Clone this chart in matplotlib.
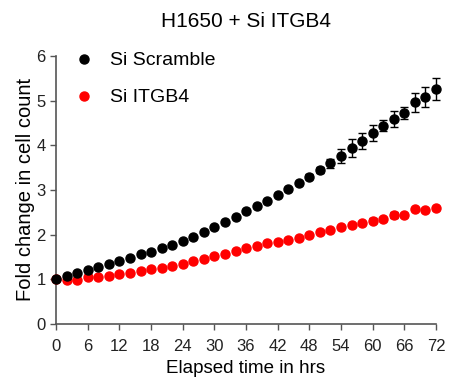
import numpy as np
import matplotlib
matplotlib.use("Agg")
from matplotlib import pyplot as plt
from matplotlib.lines import Line2D

plt.rcParams['font.family'] = ['Liberation Sans', 'DejaVu Sans']

# elapsed time (hrs)
hours = np.arange(0, 73, 2)

scramble = [1.01, 1.07, 1.14, 1.21, 1.27, 1.35, 1.41, 1.47, 1.56, 1.61,
            1.69, 1.77, 1.86, 1.94, 2.06, 2.17, 2.28, 2.39, 2.52, 2.65,
            2.75, 2.89, 3.01, 3.15, 3.30, 3.44, 3.60, 3.76, 3.94, 4.10,
            4.27, 4.44, 4.59, 4.72, 4.96, 5.08, 5.26]
scramble_err = [0.01, 0.01, 0.01, 0.01, 0.01, 0.01, 0.01, 0.01, 0.01, 0.01,
                0.01, 0.01, 0.01, 0.01, 0.01, 0.01, 0.01, 0.02, 0.02, 0.02,
                0.02, 0.02, 0.03, 0.03, 0.05, 0.07, 0.10, 0.15, 0.20, 0.18,
                0.18, 0.13, 0.17, 0.14, 0.21, 0.22, 0.24]

itgb4 = [1.00, 0.99, 0.99, 1.04, 1.06, 1.07, 1.12, 1.14, 1.18, 1.22,
         1.24, 1.29, 1.35, 1.40, 1.45, 1.51, 1.57, 1.64, 1.69, 1.74,
         1.80, 1.84, 1.88, 1.93, 1.99, 2.05, 2.11, 2.18, 2.22, 2.26,
         2.31, 2.34, 2.44, 2.44, 2.57, 2.55, 2.59]
itgb4_err = [0.01, 0.01, 0.01, 0.01, 0.01, 0.01, 0.01, 0.01, 0.01, 0.01,
             0.01, 0.01, 0.01, 0.01, 0.01, 0.01, 0.01, 0.01, 0.01, 0.01,
             0.01, 0.01, 0.01, 0.01, 0.01, 0.02, 0.02, 0.02, 0.02, 0.03,
             0.05, 0.03, 0.07, 0.05, 0.03, 0.03, 0.03]

fig = plt.figure(figsize=(4.49, 3.81), dpi=100)
ax = fig.add_axes([0.125, 0.150, 0.846, 0.703])

ax.errorbar(hours, itgb4, yerr=itgb4_err, fmt='o', color='red', ecolor='black',
            elinewidth=1, capsize=3, markersize=6.5, clip_on=False, zorder=3)
ax.errorbar(hours, scramble, yerr=scramble_err, fmt='o', color='black',
            ecolor='black', elinewidth=1, capsize=3, markersize=6.5,
            clip_on=False, zorder=4)

ax.set_xlim(0, 72)
ax.set_ylim(0, 6)
ax.set_xticks(np.arange(0, 73, 6))
ax.set_yticks(np.arange(0, 7, 1))
ax.spines['top'].set_visible(False)
ax.spines['right'].set_visible(False)
for s in ['left', 'bottom']:
    ax.spines[s].set_color('#555555')
    ax.spines[s].set_linewidth(1.2)
ax.tick_params(direction='out', length=4, width=1, color='#555555',
               labelcolor='#222222', labelsize=12)
ax.tick_params(axis='x', pad=7)
ax.set_xlabel('Elapsed time in hrs', fontsize=13.5, labelpad=4)
ax.set_ylabel('Fold change in cell count', fontsize=14.5, labelpad=1)
ax.set_title('H1650 + Si ITGB4', fontsize=15, pad=21)

handles = [Line2D([], [], ls='none', marker='o', color='black', markersize=6.5),
           Line2D([], [], ls='none', marker='o', color='red', markersize=6.5)]
ax.legend(handles, ['Si Scramble', 'Si ITGB4'], loc='upper left',
          frameon=False, fontsize=14, handletextpad=0.6, labelspacing=1.0,
          borderaxespad=0.0, bbox_to_anchor=(0.015, 1.045), handlelength=1.5)

fig.savefig('out.png', dpi=100)
